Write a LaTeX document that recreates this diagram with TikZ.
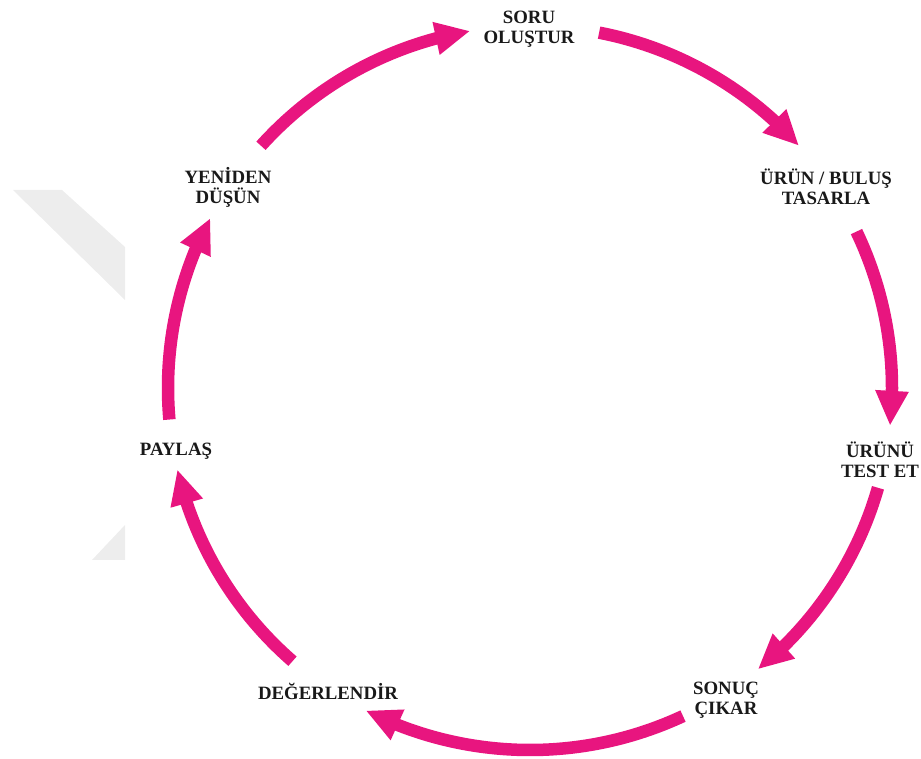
\documentclass[tikz,border=0pt]{standalone}
\usepackage{fontspec}
\setmainfont{Liberation Serif}
\usetikzlibrary{arrows.meta,bending,calc}
\definecolor{pinkarc}{RGB}{232,21,127}
\definecolor{wmgray}{RGB}{237,237,237}
\begin{document}
\begin{tikzpicture}[x=1pt,y=1pt,
  lbl/.style={font=\bfseries\fontsize{18.8}{20}\selectfont, align=center, inner sep=0pt, text=black!90},
  flow/.style={draw=pinkarc, line width=12.5pt, -{Triangle[length=35pt,width=31pt,flex]}},
]
\clip (0,0) rectangle (921,758);
% faint watermark
\fill[wmgray] (13,568) -- (62,568) -- (125,511) -- (125,458) -- cycle;
\fill[wmgray] (92,198) -- (125,233) -- (125,198) -- cycle;

\coordinate (c) at (530,370);
\def\R{362}

\node[lbl] (soru)    at (529,729) {SORU\\OLUŞTUR};
\node[lbl] (urun)    at (826,571) {ÜRÜN / BULUŞ\\TASARLA};
\node[lbl] (test)    at (880,298) {ÜRÜNÜ\\TEST ET};
\node[lbl] (sonuc)   at (726,58)  {SONUÇ\\ÇIKAR};
\node[lbl] (deger)   at (328,67)  {DEĞERLENDİR};
\node[lbl] (paylas)  at (176,307) {PAYLAŞ};
\node[lbl] (yeniden) at (228,571) {YENİDEN\\DÜŞÜN};

\draw[flow] ($(c)+(79:\R)$)   arc[start angle=79,   end angle=42,   radius=\R];
\draw[flow] ($(c)+(25.6:\R)$) arc[start angle=25.6, end angle=-6,   radius=\R];
\draw[flow] ($(c)+(-16:\R)$)  arc[start angle=-16,  end angle=-51,  radius=\R];
\draw[flow] ($(c)+(-65:\R)$)  arc[start angle=-65,  end angle=-117, radius=\R];
\draw[flow] ($(c)+(-131:\R)$) arc[start angle=-131, end angle=-167, radius=\R];
\draw[flow] ($(c)+(-175:\R)$) arc[start angle=-175, end angle=-208, radius=\R];
\draw[flow] ($(c)+(-222:\R)$) arc[start angle=-222, end angle=-260.5, radius=\R];
\end{tikzpicture}
\end{document}
